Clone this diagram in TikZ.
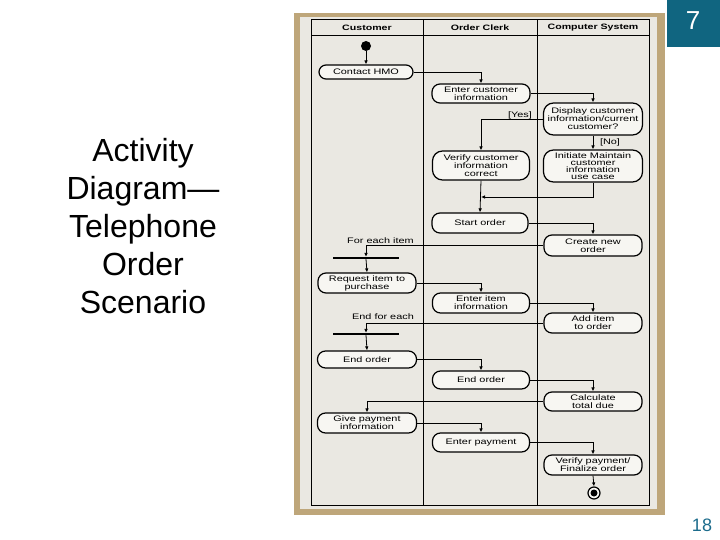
\documentclass[tikz,border=0pt]{standalone}
\usepackage{fontspec}
\setmainfont{Liberation Sans}
\newfontfamily\diafont[FakeStretch=1.36]{Liberation Sans}
\usetikzlibrary{arrows.meta,shapes.misc}
\definecolor{tanframe}{RGB}{190,166,122}
\definecolor{diabg}{RGB}{234,232,226}
\definecolor{nodefill}{RGB}{247,246,242}
\definecolor{tealbox}{RGB}{16,101,128}
\definecolor{tealtext}{RGB}{28,108,140}
\newcommand\dfont{\diafont\fontsize{8}{8.1}\selectfont}
\newcommand\dtightfont{\diafont\fontsize{8}{7.2}\selectfont}
\newcommand\hfont{\diafont\bfseries\fontsize{7.8}{8}\selectfont}
\tikzset{
  act/.style={rectangle, rounded corners=8pt, draw=black, line width=1.2pt, fill=nodefill,
    font=\dfont, align=center, inner sep=0pt},
  arr/.style={draw=black, line width=0.8pt, -{Latex[length=4pt,width=3.6pt]}},
  syncbar/.style={rectangle, fill=black, inner sep=0pt, minimum width=66pt, minimum height=1.8pt},
  lbl/.style={font=\dfont, inner sep=0pt},
  hdr/.style={font=\hfont, inner sep=0pt}
}
\begin{document}
\begin{tikzpicture}[x=1pt,y=-1pt]
\useasboundingbox (0,0) rectangle (720,540);
\fill[white] (0,0) rectangle (720,540);
% slide elements
\fill[tealbox] (667,0) rectangle (720,47);
\node[font=\fontsize{26}{28}\selectfont, text=white] (pgnum) at (693,21) {7};
\node[font=\fontsize{18}{20}\selectfont, text=tealtext] (slnum) at (702,525) {18};
\node[font=\fontsize{32}{38}\selectfont, align=center] (title) at (143,226)
  {Activity\\Diagram—\\Telephone\\Order\\Scenario};
% frame
\fill[tanframe] (294,13) rectangle (665,515);
\fill[diabg] (300,17) rectangle (657,509);
% swimlanes
\draw[line width=0.9pt] (311,19.5) rectangle (649,505);
\draw[line width=0.9pt] (311,35) -- (649,35);
\draw[line width=0.9pt] (423,19.5) -- (423,505);
\draw[line width=0.9pt] (537,19.5) -- (537,505);
\node[hdr] (h1) at (367,27.5) {Customer};
\node[hdr] (h2) at (480,27.5) {Order Clerk};
\node[hdr] (h3) at (593,27.5) {Computer System};
% start
\node[circle, fill=black, inner sep=0pt, minimum size=10pt] (start) at (366,46) {};
% activities
\node[act, rounded corners=7pt, minimum width=94pt, minimum height=14pt] (contact) at (366,72) {Contact HMO};
\node[act, minimum width=98pt, minimum height=19pt] (entercust) at (481,93.5) {Enter customer\\information};
\node[act, rounded corners=10pt, minimum width=99pt, minimum height=32pt] (display) at (593,119) {Display customer\\information/current\\customer?};
\node[act, rounded corners=10pt, minimum width=97pt, minimum height=29pt] (verify) at (481,165.5) {Verify customer\\information\\correct};
\node[act, rounded corners=10pt, minimum width=99pt, minimum height=32pt, font=\dtightfont] (initiate) at (593,166) {Initiate Maintain\\customer\\information\\use case};
\node[act, minimum width=96pt, minimum height=20pt] (startorder) at (480,223) {Start order};
\node[act, minimum width=98pt, minimum height=21pt] (create) at (593,245.5) {Create new\\order};
\node[syncbar] (bar1) at (366,258) {};
\node[act, minimum width=98pt, minimum height=20pt] (request) at (367,283) {Request item to\\purchase};
\node[act, minimum width=97pt, minimum height=20pt] (enteritem) at (481,303) {Enter item\\information};
\node[act, minimum width=98pt, minimum height=20pt] (additem) at (593,323) {Add item\\to order};
\node[syncbar] (bar2) at (366,334) {};
\node[act, minimum width=99pt, minimum height=17pt] (endorder1) at (367,359.5) {End order};
\node[act, minimum width=97pt, minimum height=18pt] (endorder2) at (481,380) {End order};
\node[act, minimum width=98pt, minimum height=19pt] (calc) at (593,401.5) {Calculate\\total due};
\node[act, minimum width=99pt, minimum height=20pt] (give) at (367,423) {Give payment\\information};
\node[act, minimum width=97pt, minimum height=19pt] (enterpay) at (481,442.5) {Enter payment};
\node[act, minimum width=98pt, minimum height=20pt] (verifypay) at (593,465) {Verify payment/\\Finalize order};
% final
\node[circle, draw=black, line width=1.2pt, fill=nodefill, inner sep=0pt, minimum size=12pt] (final) at (594,493) {};
\node[circle, fill=black, inner sep=0pt, minimum size=7pt] (finaldot) at (final.center) {};
% labels
\node[lbl] (yes) at (520,115) {[Yes]};
\node[lbl] (no) at (610,142) {[No]};
\node[lbl] (foreach) at (380.5,241) {For each item};
\node[lbl] (endforeach) at (383,317) {End for each};
% connectors
\draw[arr] (start) -- (contact.north);
\draw[arr] (contact.east) -| (entercust.north);
\draw[arr] (entercust.east) -| (display.north);
\draw[arr] (display.west) -| (verify.north);
\draw[arr] (display.south) -- (initiate.north);
\coordinate (merge) at (481,197);
\draw[arr] (initiate.south) |- (merge);
\draw[arr] (verify.south) -- (startorder.north);
\draw[arr] (startorder.east) -| (create.north);
\draw[arr] (create.west) -| (bar1.north);
\draw[arr] (bar1.south) -- (request.north);
\draw[arr] (request.east) -| (enteritem.north);
\draw[arr] (enteritem.east) -| (additem.north);
\draw[arr] (additem.west) -| (bar2.north);
\draw[arr] (bar2.south) -- (endorder1.north);
\draw[arr] (endorder1.east) -| (endorder2.north);
\draw[arr] (endorder2.east) -| (calc.north);
\draw[arr] (calc.west) -| (give.north);
\draw[arr] (give.east) -| (enterpay.north);
\draw[arr] (enterpay.east) -| (verifypay.north);
\draw[arr] (verifypay.south) -- (final.north);
\end{tikzpicture}
\end{document}
